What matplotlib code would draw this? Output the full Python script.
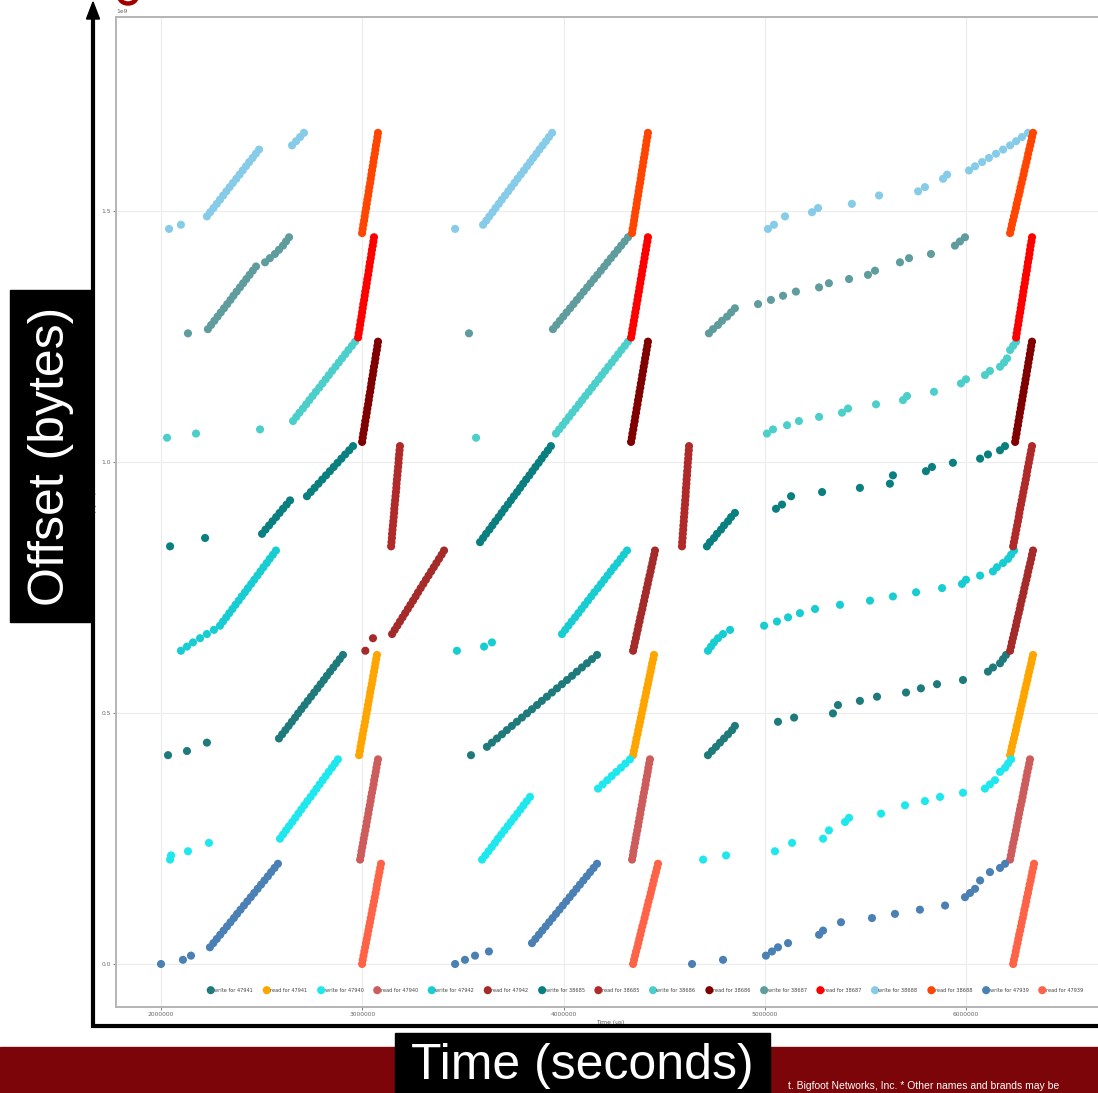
import matplotlib
matplotlib.use("Agg")
import numpy as np
import matplotlib.pyplot as plt
from matplotlib import font_manager
from matplotlib.patches import Rectangle, Polygon, Arc
from matplotlib.ticker import MultipleLocator, FixedLocator

# ---------------- data ----------------
CHUNK = 8.32e6          # bytes per plotted chunk
CHUNKS_PER_FILE = 25
READ_C = [0, 1, 2, 3, 4, 5, 6, 7, 8, 9, 10, 11, 12, 13, 14, 15, 16, 17, 18, 19, 20, 21, 22, 23, 24]

FILE_SLOT = {"47939": 0, "47940": 1, "47941": 2, "47942": 3,
             "38685": 4, "38686": 5, "38687": 6, "38688": 7}
LEGEND_ORDER = ["47941", "47940", "47942", "38685", "38686", "38687", "38688", "47939"]
WRITE_COLORS = {"47941": "#1f7b7b", "47940": "#1ee8ee", "47942": "#17cdd2", "38685": "#0a7f7f",
                "38686": "#4ccfca", "38687": "#5f9c9e", "38688": "#86cbe8", "47939": "#4a80b4"}
READ_COLORS = {"47941": "#ffa500", "47940": "#cd5c5c", "47942": "#a52a2a", "38685": "#b02a2a",
               "38686": "#800000", "38687": "#ff0000", "38688": "#ff4500", "47939": "#ff6347"}

# times in seconds (x 1e6 = microseconds), chunk index within file
W47939_T = [2.000, 2.109, 2.149, 2.243, 2.260, 2.277, 2.294, 2.311, 2.328, 2.345, 2.362, 2.378, 2.395,
            2.412, 2.429, 2.446, 2.463, 2.480, 2.497, 2.514, 2.531, 2.547, 2.564, 2.581,
            3.461, 3.510, 3.560, 3.629, 3.843, 3.860, 3.877, 3.894, 3.911, 3.928, 3.945, 3.962, 3.979,
            3.996, 4.013, 4.030, 4.047, 4.064, 4.081, 4.098, 4.115, 4.132, 4.149, 4.166,
            4.638, 4.792, 5.005, 5.035, 5.065, 5.115, 5.269, 5.289, 5.378, 5.532, 5.646, 5.770, 5.895,
            5.994, 6.019, 6.044, 6.069, 6.118, 6.168, 6.193]
W47939_C = [0, 1, 2, 4, 5, 6, 7, 8, 9, 10, 11, 12, 13, 14, 15, 16, 17, 18, 19, 20, 21, 22, 23, 24,
            0, 1, 2, 3, 5, 6, 7, 8, 9, 10, 11, 12, 13, 14, 15, 16, 17, 18, 19, 20, 21, 22, 23, 24,
            0, 1, 2, 3, 4, 5, 7, 8, 10, 11, 12, 13, 14, 16, 17, 18, 20, 22, 23, 24]
R47939_T = [2.999, 3.002, 3.006, 3.010, 3.014, 3.018, 3.022, 3.026, 3.030, 3.034, 3.038, 3.042, 3.046,
            3.050, 3.054, 3.058, 3.062, 3.066, 3.070, 3.073, 3.077, 3.081, 3.085, 3.089, 3.093,
            4.345, 4.350, 4.355, 4.360, 4.366, 4.371, 4.376, 4.381, 4.386, 4.391, 4.397, 4.402, 4.407,
            4.412, 4.417, 4.422, 4.428, 4.433, 4.438, 4.443, 4.448, 4.453, 4.459, 4.464, 4.469,
            6.233, 6.237, 6.242, 6.246, 6.250, 6.255, 6.259, 6.263, 6.268, 6.272, 6.276, 6.281, 6.285,
            6.289, 6.294, 6.298, 6.302, 6.307, 6.311, 6.315, 6.320, 6.324, 6.328, 6.333, 6.337]
R47939_C = READ_C + READ_C + READ_C

W47940_T = [2.045, 2.050, 2.134, 2.238, 2.591, 2.606, 2.621, 2.636, 2.652, 2.667, 2.682, 2.697, 2.712,
            2.727, 2.743, 2.758, 2.773, 2.788, 2.803, 2.818, 2.833, 2.849, 2.864, 2.879,
            3.595, 3.611, 3.627, 3.643, 3.659, 3.674, 3.690, 3.706, 3.722, 3.738, 3.754, 3.770, 3.786,
            3.801, 3.817, 3.833, 4.171, 4.194, 4.217, 4.239, 4.262, 4.285, 4.307, 4.330,
            4.693, 4.807, 5.050, 5.135, 5.289, 5.318, 5.398, 5.418, 5.577, 5.696, 5.795, 5.870, 5.984,
            6.093, 6.118, 6.143, 6.168, 6.193, 6.208, 6.223]
W47940_C = [0, 1, 2, 4, 5, 6, 7, 8, 9, 10, 11, 12, 13, 14, 15, 16, 17, 18, 19, 20, 21, 22, 23, 24,
            0, 1, 2, 3, 4, 5, 6, 7, 8, 9, 10, 11, 12, 13, 14, 15, 17, 18, 19, 20, 21, 22, 23, 24,
            0, 1, 2, 4, 5, 7, 9, 10, 11, 13, 14, 15, 16, 17, 18, 19, 21, 22, 23, 24]
R47940_T = [2.989, 2.993, 2.996, 3.000, 3.004, 3.007, 3.011, 3.015, 3.019, 3.022, 3.026, 3.030, 3.033,
            3.037, 3.041, 3.044, 3.048, 3.052, 3.056, 3.059, 3.063, 3.067, 3.070, 3.074, 3.078,
            4.340, 4.344, 4.347, 4.351, 4.355, 4.358, 4.362, 4.366, 4.370, 4.373, 4.377, 4.381, 4.384,
            4.388, 4.392, 4.395, 4.399, 4.403, 4.407, 4.410, 4.414, 4.418, 4.421, 4.425, 4.429,
            6.218, 6.222, 6.226, 6.230, 6.234, 6.239, 6.243, 6.247, 6.251, 6.255, 6.259, 6.263, 6.267,
            6.271, 6.276, 6.280, 6.284, 6.288, 6.292, 6.296, 6.300, 6.304, 6.309, 6.313, 6.317]
R47940_C = READ_C + READ_C + READ_C

W47941_T = [2.035, 2.129, 2.228, 2.586, 2.602, 2.618, 2.634, 2.650, 2.666, 2.681, 2.697, 2.713, 2.729,
            2.745, 2.761, 2.777, 2.793, 2.809, 2.824, 2.840, 2.856, 2.872, 2.888, 2.904,
            3.540, 3.619, 3.644, 3.669, 3.694, 3.718, 3.743, 3.768, 3.793, 3.818, 3.843, 3.868, 3.892,
            3.917, 3.942, 3.967, 3.992, 4.017, 4.042, 4.066, 4.091, 4.116, 4.141, 4.166,
            4.717, 4.737, 4.757, 4.777, 4.797, 4.817, 4.837, 4.851, 5.065, 5.145, 5.338, 5.363, 5.472,
            5.557, 5.701, 5.775, 5.855, 5.984, 6.108, 6.133, 6.168, 6.183, 6.198]
W47941_C = [0, 1, 3, 4, 5, 6, 7, 8, 9, 10, 11, 12, 13, 14, 15, 16, 17, 18, 19, 20, 21, 22, 23, 24,
            0, 2, 3, 4, 5, 6, 7, 8, 9, 10, 11, 12, 13, 14, 15, 16, 17, 18, 19, 20, 21, 22, 23, 24,
            0, 1, 2, 3, 4, 5, 6, 7, 8, 9, 10, 12, 13, 14, 15, 16, 17, 18, 20, 21, 22, 23, 24]
R47941_T = [2.984, 2.988, 2.991, 2.995, 2.999, 3.002, 3.006, 3.010, 3.014, 3.017, 3.021, 3.025, 3.028,
            3.032, 3.036, 3.039, 3.043, 3.047, 3.051, 3.054, 3.058, 3.062, 3.065, 3.069, 3.073,
            4.345, 4.349, 4.354, 4.358, 4.362, 4.367, 4.371, 4.375, 4.380, 4.384, 4.388, 4.393, 4.397,
            4.401, 4.406, 4.410, 4.414, 4.419, 4.423, 4.427, 4.432, 4.436, 4.440, 4.445, 4.449,
            6.218, 6.223, 6.227, 6.232, 6.237, 6.242, 6.247, 6.251, 6.256, 6.261, 6.266, 6.270, 6.275,
            6.280, 6.285, 6.289, 6.294, 6.299, 6.304, 6.308, 6.313, 6.318, 6.323, 6.327, 6.332]
R47941_C = READ_C + READ_C + READ_C

W47942_T = [2.099, 2.129, 2.159, 2.194, 2.228, 2.263, 2.293, 2.308, 2.324, 2.339, 2.355, 2.370, 2.386,
            2.401, 2.417, 2.432, 2.448, 2.463, 2.479, 2.494, 2.509, 2.525, 2.540, 2.556, 2.571,
            3.470, 3.605, 3.644, 3.992, 4.008, 4.024, 4.040, 4.057, 4.073, 4.089, 4.105, 4.121, 4.137,
            4.153, 4.170, 4.186, 4.202, 4.218, 4.234, 4.250, 4.267, 4.283, 4.299, 4.315,
            4.717, 4.732, 4.747, 4.767, 4.792, 4.827, 4.996, 5.060, 5.115, 5.174, 5.249, 5.373, 5.522,
            5.636, 5.751, 5.880, 5.979, 5.999, 6.069, 6.133, 6.153, 6.183, 6.208, 6.223, 6.238]
W47942_C = [0, 1, 2, 3, 4, 5, 6, 7, 8, 9, 10, 11, 12, 13, 14, 15, 16, 17, 18, 19, 20, 21, 22, 23, 24,
            0, 1, 2, 4, 5, 6, 7, 8, 9, 10, 11, 12, 13, 14, 15, 16, 17, 18, 19, 20, 21, 22, 23, 24,
            0, 1, 2, 3, 4, 5, 6, 7, 8, 9, 10, 11, 12, 13, 14, 15, 16, 17, 18, 19, 20, 21, 22, 23, 24]
R47942_T = [3.015, 3.053, 3.148, 3.161, 3.174, 3.187, 3.200, 3.213, 3.226, 3.239, 3.252, 3.265, 3.277,
            3.290, 3.303, 3.316, 3.329, 3.342, 3.355, 3.368, 3.381, 3.394, 3.406,
            4.345, 4.350, 4.354, 4.359, 4.363, 4.368, 4.372, 4.377, 4.381, 4.386, 4.391, 4.395, 4.400,
            4.404, 4.409, 4.413, 4.418, 4.422, 4.427, 4.432, 4.436, 4.441, 4.445, 4.450, 4.454,
            6.218, 6.223, 6.227, 6.232, 6.237, 6.242, 6.247, 6.251, 6.256, 6.261, 6.266, 6.270, 6.275,
            6.280, 6.285, 6.289, 6.294, 6.299, 6.304, 6.308, 6.313, 6.318, 6.323, 6.327, 6.332]
R47942_C = [0, 3, 4, 5, 6, 7, 8, 9, 10, 11, 12, 13, 14, 15, 16, 17, 18, 19, 20, 21, 22, 23, 24] + READ_C + READ_C

W38685_T = [2.045, 2.219, 2.502, 2.519, 2.537, 2.554, 2.572, 2.589, 2.606, 2.624, 2.641, 2.725, 2.744,
            2.763, 2.782, 2.801, 2.820, 2.839, 2.858, 2.877, 2.896, 2.915, 2.935, 2.954,
            3.585, 3.600, 3.615, 3.631, 3.646, 3.661, 3.677, 3.692, 3.707, 3.723, 3.738, 3.753, 3.769,
            3.784, 3.799, 3.814, 3.830, 3.845, 3.860, 3.876, 3.891, 3.906, 3.922, 3.937,
            4.712, 4.727, 4.747, 4.762, 4.782, 4.797, 4.817, 4.832, 4.851, 5.055, 5.085, 5.130, 5.284,
            5.472, 5.621, 5.636, 5.800, 5.830, 5.934, 6.069, 6.108, 6.168, 6.193]
W38685_C = [0, 2, 3, 4, 5, 6, 7, 8, 9, 10, 11, 12, 13, 14, 15, 16, 17, 18, 19, 20, 21, 22, 23, 24,
            1, 2, 3, 4, 5, 6, 7, 8, 9, 10, 11, 12, 13, 14, 15, 16, 17, 18, 19, 20, 21, 22, 23, 24,
            0, 1, 2, 3, 4, 5, 6, 7, 8, 9, 10, 12, 13, 14, 15, 17, 18, 19, 20, 21, 22, 23, 24]
R38685_T = [3.143, 3.145, 3.147, 3.148, 3.150, 3.152, 3.154, 3.156, 3.158, 3.159, 3.161, 3.163, 3.165,
            3.167, 3.169, 3.170, 3.172, 3.174, 3.176, 3.178, 3.180, 3.181, 3.183, 3.185, 3.187,
            4.588, 4.589, 4.591, 4.592, 4.594, 4.595, 4.597, 4.598, 4.600, 4.601, 4.603, 4.604, 4.606,
            4.607, 4.608, 4.610, 4.611, 4.613, 4.614, 4.616, 4.617, 4.619, 4.620, 4.622, 4.623,
            6.233, 6.237, 6.241, 6.245, 6.249, 6.253, 6.257, 6.261, 6.264, 6.268, 6.272, 6.276, 6.280,
            6.284, 6.288, 6.292, 6.296, 6.300, 6.303, 6.307, 6.311, 6.315, 6.319, 6.323, 6.327]
R38685_C = READ_C + READ_C + READ_C

W38686_T = [2.030, 2.174, 2.492, 2.656, 2.672, 2.688, 2.705, 2.721, 2.737, 2.753, 2.769, 2.786, 2.802,
            2.818, 2.834, 2.850, 2.867, 2.883, 2.899, 2.915, 2.931, 2.948, 2.964,
            3.565, 3.962, 3.978, 3.995, 4.011, 4.027, 4.043, 4.060, 4.076, 4.092, 4.108, 4.125, 4.141,
            4.157, 4.174, 4.190, 4.206, 4.222, 4.239, 4.255, 4.271, 4.287, 4.304, 4.320,
            5.010, 5.040, 5.110, 5.169, 5.269, 5.383, 5.413, 5.552, 5.686, 5.706, 5.840, 5.974, 5.999,
            6.093, 6.118, 6.168, 6.188, 6.203, 6.218, 6.233, 6.248]
W38686_C = [1, 2, 3, 5, 6, 7, 8, 9, 10, 11, 12, 13, 14, 15, 16, 17, 18, 19, 20, 21, 22, 23, 24,
            1, 2, 3, 4, 5, 6, 7, 8, 9, 10, 11, 12, 13, 14, 15, 16, 17, 18, 19, 20, 21, 22, 23, 24,
            2, 3, 4, 5, 6, 7, 8, 9, 10, 11, 12, 14, 15, 16, 17, 18, 19, 20, 22, 23, 24]
R38686_T = [2.999, 3.002, 3.005, 3.009, 3.012, 3.015, 3.019, 3.022, 3.025, 3.029, 3.032, 3.035, 3.039,
            3.042, 3.045, 3.048, 3.052, 3.055, 3.058, 3.062, 3.065, 3.068, 3.072, 3.075, 3.078,
            4.335, 4.339, 4.342, 4.346, 4.349, 4.353, 4.356, 4.360, 4.363, 4.367, 4.370, 4.374, 4.377,
            4.381, 4.384, 4.388, 4.391, 4.395, 4.398, 4.402, 4.405, 4.409, 4.412, 4.416, 4.419,
            6.243, 6.246, 6.250, 6.253, 6.257, 6.260, 6.264, 6.267, 6.271, 6.274, 6.278, 6.281, 6.285,
            6.288, 6.292, 6.295, 6.299, 6.302, 6.306, 6.309, 6.313, 6.316, 6.320, 6.323, 6.327]
R38686_C = READ_C + READ_C + READ_C

W38687_T = [2.134, 2.233, 2.249, 2.265, 2.281, 2.297, 2.313, 2.329, 2.345, 2.360, 2.376, 2.392, 2.408,
            2.424, 2.440, 2.456, 2.472, 2.517, 2.541, 2.566, 2.586, 2.606, 2.621, 2.636,
            3.530, 3.947, 3.964, 3.981, 3.998, 4.015, 4.032, 4.049, 4.066, 4.083, 4.100, 4.117, 4.134,
            4.151, 4.168, 4.185, 4.202, 4.218, 4.235, 4.252, 4.269, 4.286, 4.303, 4.320,
            4.722, 4.742, 4.767, 4.787, 4.812, 4.832, 4.851, 4.966, 5.030, 5.090, 5.154, 5.269, 5.318,
            5.418, 5.512, 5.547, 5.671, 5.716, 5.825, 5.944, 5.969, 5.994]
W38687_C = [1, 2, 3, 4, 5, 6, 7, 8, 9, 10, 11, 12, 13, 14, 15, 16, 17, 18, 19, 20, 21, 22, 23, 24,
            1, 2, 3, 4, 5, 6, 7, 8, 9, 10, 11, 12, 13, 14, 15, 16, 17, 18, 19, 20, 21, 22, 23, 24,
            1, 2, 3, 4, 5, 6, 7, 8, 9, 10, 11, 12, 13, 14, 15, 16, 18, 19, 20, 22, 23, 24]
R38687_T = [2.979, 2.982, 2.986, 2.989, 2.992, 2.996, 2.999, 3.002, 3.005, 3.009, 3.012, 3.015, 3.019,
            3.022, 3.025, 3.029, 3.032, 3.035, 3.038, 3.042, 3.045, 3.048, 3.052, 3.055, 3.058,
            4.335, 4.339, 4.342, 4.346, 4.349, 4.353, 4.356, 4.360, 4.363, 4.367, 4.370, 4.374, 4.377,
            4.381, 4.384, 4.388, 4.391, 4.395, 4.398, 4.402, 4.405, 4.409, 4.412, 4.416, 4.419,
            6.248, 6.251, 6.254, 6.258, 6.261, 6.264, 6.268, 6.271, 6.274, 6.278, 6.281, 6.284, 6.287,
            6.291, 6.294, 6.297, 6.301, 6.304, 6.307, 6.311, 6.314, 6.317, 6.320, 6.324, 6.327]
R38687_C = READ_C + READ_C + READ_C

W38688_T = [2.040, 2.099, 2.228, 2.244, 2.261, 2.277, 2.293, 2.309, 2.325, 2.341, 2.357, 2.374, 2.390,
            2.406, 2.422, 2.438, 2.455, 2.471, 2.487, 2.651, 2.671, 2.691, 2.710,
            3.461, 3.600, 3.616, 3.631, 3.647, 3.662, 3.678, 3.693, 3.709, 3.725, 3.740, 3.756, 3.771,
            3.787, 3.803, 3.818, 3.834, 3.849, 3.865, 3.880, 3.896, 3.912, 3.927, 3.943,
            5.015, 5.045, 5.100, 5.234, 5.264, 5.432, 5.567, 5.761, 5.795, 5.885, 5.905, 6.014, 6.044,
            6.079, 6.113, 6.148, 6.183, 6.218, 6.248, 6.277, 6.307]
W38688_C = [1, 2, 4, 5, 6, 7, 8, 9, 10, 11, 12, 13, 14, 15, 16, 17, 18, 19, 20, 21, 22, 23, 24,
            1, 2, 3, 4, 5, 6, 7, 8, 9, 10, 11, 12, 13, 14, 15, 16, 17, 18, 19, 20, 21, 22, 23, 24,
            1, 2, 4, 5, 6, 7, 9, 10, 11, 13, 14, 15, 16, 17, 18, 19, 20, 21, 22, 23, 24]
R38688_T = [2.999, 3.002, 3.005, 3.009, 3.012, 3.015, 3.019, 3.022, 3.025, 3.029, 3.032, 3.035, 3.039,
            3.042, 3.045, 3.048, 3.052, 3.055, 3.058, 3.062, 3.065, 3.068, 3.072, 3.075, 3.078,
            4.340, 4.343, 4.347, 4.350, 4.353, 4.356, 4.360, 4.363, 4.366, 4.370, 4.373, 4.376, 4.380,
            4.383, 4.386, 4.389, 4.393, 4.396, 4.399, 4.403, 4.406, 4.409, 4.412, 4.416, 4.419,
            6.218, 6.223, 6.227, 6.232, 6.237, 6.242, 6.247, 6.251, 6.256, 6.261, 6.266, 6.270, 6.275,
            6.280, 6.285, 6.289, 6.294, 6.299, 6.304, 6.308, 6.313, 6.318, 6.323, 6.327, 6.332]
R38688_C = READ_C + READ_C + READ_C

SERIES = {
    "47939": (W47939_T, W47939_C, R47939_T, R47939_C),
    "47940": (W47940_T, W47940_C, R47940_T, R47940_C),
    "47941": (W47941_T, W47941_C, R47941_T, R47941_C),
    "47942": (W47942_T, W47942_C, R47942_T, R47942_C),
    "38685": (W38685_T, W38685_C, R38685_T, R38685_C),
    "38686": (W38686_T, W38686_C, R38686_T, R38686_C),
    "38687": (W38687_T, W38687_C, R38687_T, R38687_C),
    "38688": (W38688_T, W38688_C, R38688_T, R38688_C),
}

X_TICKS = [2000000, 3000000, 4000000, 5000000, 6000000]

# ---------------- figure ----------------
W, H = 1098, 1093
fig = plt.figure(figsize=(W / 100, H / 100), dpi=100)
fig.patch.set_facecolor("white")


def fx(x):
    return x / W


def fy(y):
    return 1 - y / H


AX_L, AX_R, AX_T, AX_B = 116, 1104, 17, 1007
ax = fig.add_axes([fx(AX_L), fy(AX_B), fx(AX_R) - fx(AX_L), fy(AX_T) - fy(AX_B)])

handles = []
for f in LEGEND_ORDER:
    wt, wc, rt, rc = SERIES[f]
    n = min(len(wt), len(wc))
    base = FILE_SLOT[f] * CHUNKS_PER_FILE
    hw = ax.scatter(np.array(wt[:n]) * 1e6, (base + np.array(wc[:n])) * CHUNK, s=34,
                    color=WRITE_COLORS[f], edgecolors="none", label=f"write for {f}", zorder=3)
    m = min(len(rt), len(rc))
    hr = ax.scatter(np.array(rt[:m]) * 1e6, (base + np.array(rc[:m])) * CHUNK, s=34,
                    color=READ_COLORS[f], edgecolors="none", label=f"read for {f}", zorder=3)
    handles += [hw, hr]

# axis scales mapped from reference pixels
x_per_px = 1e6 / 201.3
y_per_px = 0.5e9 / 251.0
ax.set_xlim(2e6 + (AX_L - 161) * x_per_px, 2e6 + (AX_R - 161) * x_per_px)
ax.set_ylim(-(AX_B - 964) * y_per_px, (964 - AX_T) * y_per_px)
ax.xaxis.set_major_locator(FixedLocator(X_TICKS))
ax.yaxis.set_major_locator(MultipleLocator(0.5e9))
ax.ticklabel_format(axis="x", style="plain", useOffset=False)
ax.grid(True, color="#ececec", lw=0.8)
ax.set_axisbelow(True)
for sp in ax.spines.values():
    sp.set_color("#b4b4b4")
    sp.set_linewidth(1.4)
ax.tick_params(labelsize=4.3, colors="#666666", length=2, width=0.6, pad=1.5)
ax.yaxis.get_offset_text().set_fontsize(4.3)
ax.yaxis.get_offset_text().set_color("#666666")
ax.set_xlabel("Time (us)", fontsize=4.3, color="#555555", labelpad=2)
ax.set_ylabel("Offset (bytes)", fontsize=4.3, color="#555555", labelpad=3)

ax.legend(handles=handles, ncol=16, loc="center left", bbox_to_anchor=(fx(208), fy(990)),
          bbox_transform=fig.transFigure, frameon=False, fontsize=3.6, handlelength=1.1,
          handletextpad=0.15, columnspacing=2.2, borderpad=0, borderaxespad=0,
          markerscale=1.0, labelcolor="#444444")

# ---------------- slide decorations ----------------
ov = fig.add_axes([0, 0, 1, 1], zorder=10)
ov.set_xlim(0, W)
ov.set_ylim(H, 0)
ov.axis("off")
ov.patch.set_alpha(0)

names = {fe.name for fe in font_manager.fontManager.ttflist}
if "Liberation Sans Narrow" in names:
    BIG_FONT, BIG_SIZE = "Liberation Sans Narrow", 41
else:
    BIG_FONT, BIG_SIZE = "Liberation Sans", 36

# left vertical arrow and bottom line
ov.plot([93, 93], [1027, 14], color="black", lw=3.0, solid_capstyle="butt")
ov.add_patch(Polygon([[93, 2], [86.5, 19], [99.5, 19]], closed=True, color="black"))
ov.plot([91, W], [1026, 1026], color="black", lw=3.0, solid_capstyle="butt")

# y label box
ov.add_patch(Rectangle((10, 290), 82, 332, color="black"))
ov.text(51, 456, "Offset (bytes)", rotation=90, color="white", ha="center", va="center",
        fontsize=BIG_SIZE, family=[BIG_FONT, "DejaVu Sans"])

# bottom banner
ov.add_patch(Rectangle((0, 1047), W, 50, color="#7b0508"))
ov.add_patch(Rectangle((395, 1033), 375, 62, color="black"))
ov.text(582, 1066, "Time (seconds)", color="white", ha="center", va="center",
        fontsize=BIG_SIZE, family=[BIG_FONT, "DejaVu Sans"])
ov.text(788, 1091, "t. Bigfoot Networks, Inc. * Other names and brands may be",
        color="white", ha="left", va="bottom", fontsize=7.5, family=["Liberation Sans", "DejaVu Sans"])

# red fragment of the slide title cropped at the top edge (drawn as a stroke)
ov.add_patch(Arc((128, -3), 17, 13, theta1=8, theta2=172, color="#a00000", lw=3.2))

fig.savefig("out.png", dpi=100)
